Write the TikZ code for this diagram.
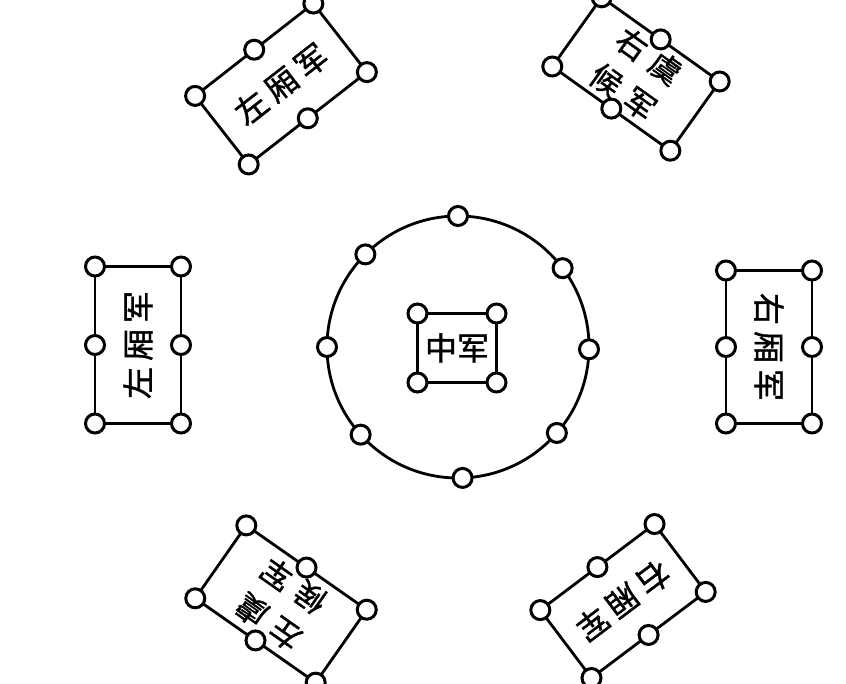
\documentclass[tikz,border=0pt]{standalone}
\usepackage{fontspec}
\newfontfamily\cjk[FakeBold=1.2]{Noto Sans CJK SC}
\newcommand{\jg}{\hspace{6pt}}
\newcommand{\jw}{\hspace{10pt}}
\begin{document}
\begin{tikzpicture}[x=1pt,y=-1pt,
  bx/.style={draw, line width=2.8pt, rectangle, inner sep=0pt, outer sep=0pt,
    font=\cjk\fontsize{32}{40}\selectfont, align=center},
  bx2/.style={bx, font=\cjk\fontsize{31}{44}\selectfont},
  dot/.style={circle, draw, fill=white, line width=3pt, minimum size=19pt, inner sep=0pt}]
\useasboundingbox (0,0) rectangle (846,683);
\fill[white] (0,0) rectangle (846,683);

% ring
\node[draw, circle, line width=2.8pt, minimum size=262pt, inner sep=0pt, outer sep=0pt] (ring) at (458,347) {};
\foreach \a [count=\i] in {-1.3,37.9,90,135.9,180,222.6,-88.3,-41.9}
  \node[dot] (ring-\i) at (ring.\a) {};

% centre box
\node[bx, minimum width=79pt, minimum height=69pt] (cb) at (457,348) {中军};
\foreach \a [count=\i] in {north east,north west,south east,south west}
  \node[dot] (cb-\i) at (cb.\a) {};

% outer boxes
\node[bx, minimum width=150pt, minimum height=87pt, rotate=38] (tl) at (281,84) {左\jg 厢\jg 军};
\node[bx2, minimum width=145pt, minimum height=85pt, rotate=-35.5] (tr) at (636,74) {右\jw 虞\\候\jw 军};
\node[bx, minimum width=157pt, minimum height=86pt, rotate=90] (lb) at (138,345) {左\jg 厢\jg 军};
\node[bx, minimum width=153pt, minimum height=86pt, rotate=-90] (rb) at (769,347) {右\jg 厢\jg 军};
\node[bx2, minimum width=147pt, minimum height=89pt, rotate=145] (bl) at (281,604) {左\jw 虞\\候\jw 军};
\node[bx, minimum width=143pt, minimum height=85pt, rotate=217] (br) at (623,601) {右\jg 厢\jg 军};

\foreach \b in {tl,tr,lb,rb,bl,br}{
  \foreach \a [count=\i] in {north east,north west,south east,south west,north,south}
    \node[dot] (\b-\i) at (\b.\a) {};
}
\end{tikzpicture}
\end{document}
